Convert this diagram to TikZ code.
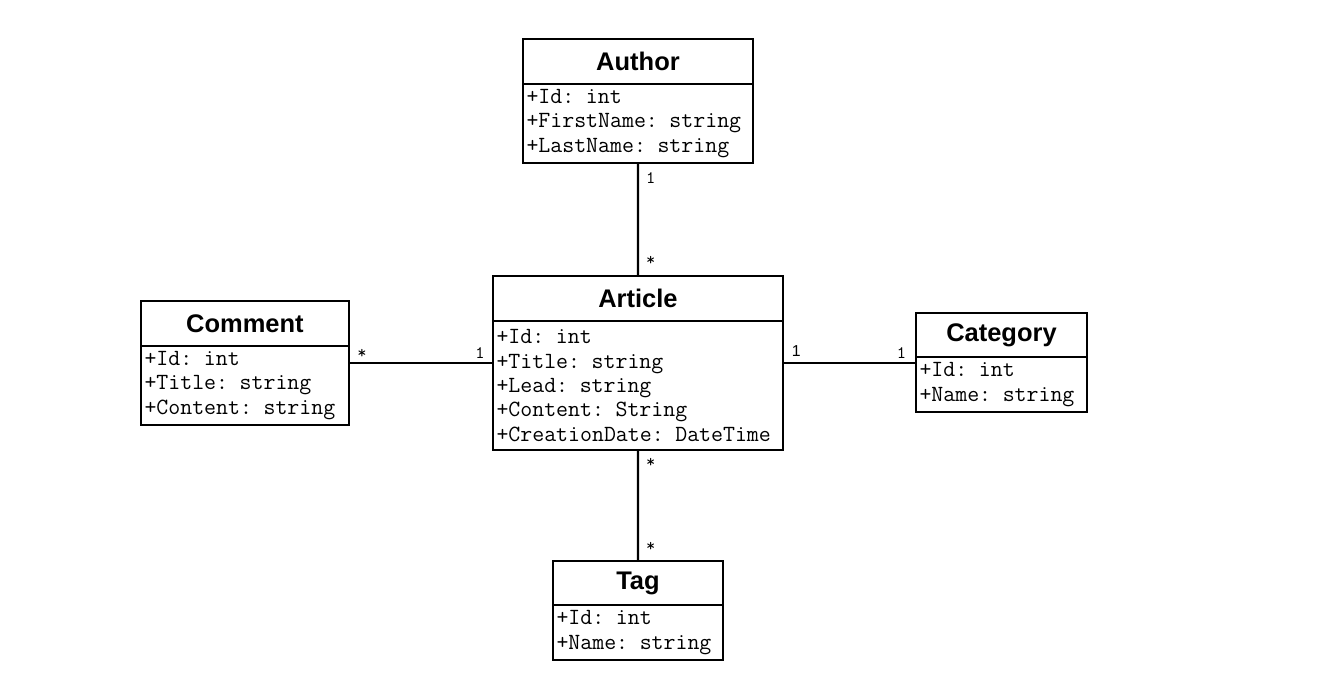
\documentclass[tikz,border=0pt]{standalone}
\usepackage{fontspec}
\setmainfont{Liberation Sans}
\usetikzlibrary{positioning}

\tikzset{
  classhead/.style={draw,line width=1.3pt,outer sep=0pt,inner sep=0pt,anchor=north west,
    font=\fontsize{14.5}{16}\selectfont\bfseries},
  classbody/.style={draw,line width=1.3pt,outer sep=0pt,inner xsep=2pt,inner ysep=2pt,align=left,
    font=\fontsize{13.2}{13.9}\selectfont\ttfamily},
  assoc/.style={line width=1.3pt},
  mult/.style={inner sep=1pt,font=\fontsize{10}{10}\selectfont\ttfamily}
}

\begin{document}
\begin{tikzpicture}[x=0.02cm,y=-0.02cm]
  \useasboundingbox (0,0) rectangle (1319,684);
  % classes
  \node (author) at (523,39) [classhead,minimum width=4.6cm,minimum height=0.9cm] {Author};
  \node (authorattr) [classbody,text width=4.46cm,minimum height=1.58cm,below right=0pt of author.south west]
    {+Id: int\\+FirstName: string\\+LastName: string};
  \node (article) at (493,276) [classhead,minimum width=5.8cm,minimum height=0.9cm] {Article};
  \node (articleattr) [classbody,text width=5.66cm,minimum height=2.58cm,below right=0pt of article.south west]
    {+Id: int\\+Title: string\\+Lead: string\\+Content: String\\+CreationDate: DateTime};
  \node (comment) at (141,301) [classhead,minimum width=4.16cm,minimum height=0.9cm] {Comment};
  \node (commentattr) [classbody,text width=4.02cm,minimum height=1.58cm,below right=0pt of comment.south west]
    {+Id: int\\+Title: string\\+Content: string};
  \node (category) at (916,313) [classhead,minimum width=3.42cm,minimum height=0.88cm] {Category};
  \node (categoryattr) [classbody,text width=3.28cm,minimum height=1.1cm,below right=0pt of category.south west]
    {+Id: int\\+Name: string};
  \node (tag) at (553,561) [classhead,minimum width=3.4cm,minimum height=0.88cm] {Tag};
  \node (tagattr) [classbody,text width=3.26cm,minimum height=1.1cm,below right=0pt of tag.south west]
    {+Id: int\\+Name: string};
  % associations
  \coordinate (mid) at (638,363);
  \draw[assoc] (authorattr) -- (article)
    node[mult,pos=0.13,right=3pt] {1} node[mult,pos=0.87,right=3pt] {*};
  \draw[assoc] (articleattr) -- (tag)
    node[mult,pos=0.12,right=3pt] {*} node[mult,pos=0.87,right=3pt] {*};
  \draw[assoc] (commentattr.east |- mid) -- (articleattr.west |- mid)
    node[mult,pos=0.09,above=1pt] {*} node[mult,pos=0.91,above=1pt] {1};
  \draw[assoc] (articleattr.east |- mid) -- (categoryattr.west |- mid)
    node[mult,pos=0.1,above=2pt,font=\fontsize{9}{10}\selectfont\rmfamily] {1} node[mult,pos=0.89,above=1pt] {1};
\end{tikzpicture}
\end{document}
